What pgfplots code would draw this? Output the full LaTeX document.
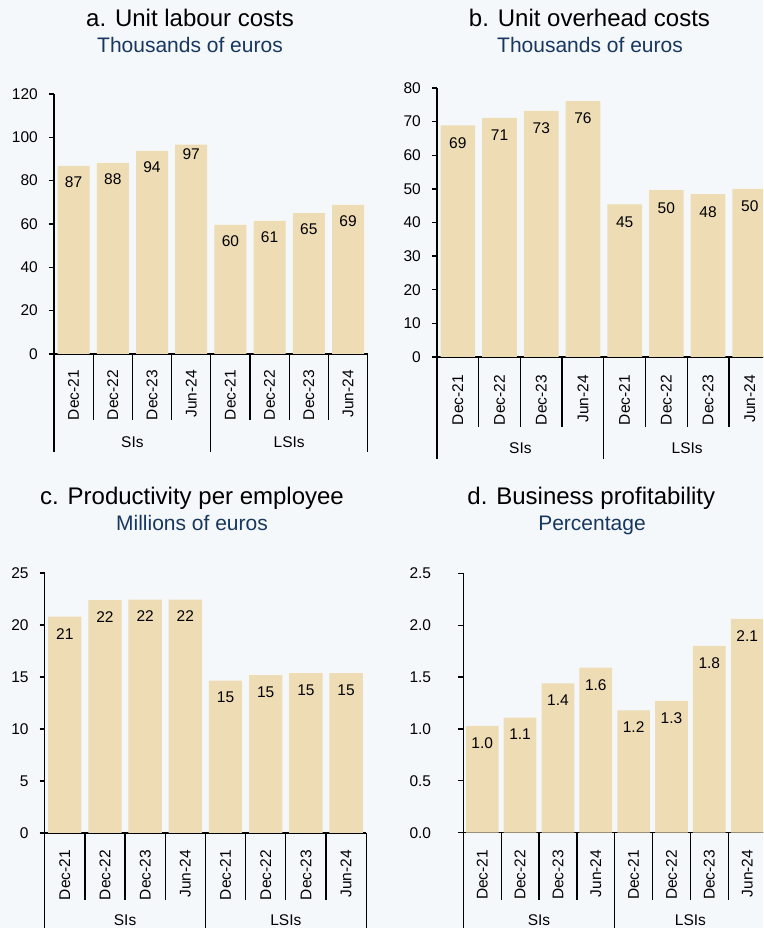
\documentclass[border=0pt]{standalone}
\usepackage{pgfplots}
\pgfplotsset{compat=1.18}
\usepackage{pgfplotstable}
\usepackage{fontspec}
\setmainfont{Liberation Sans}
\definecolor{bg}{HTML}{F5F8FA}
\definecolor{barc}{HTML}{EEDCB4}
\definecolor{navy}{HTML}{17375E}
\newcommand{\sm}{\fontsize{15.5}{18}\selectfont}
\newcommand{\ttl}{\fontsize{24}{28}\selectfont}
\newcommand{\sub}{\fontsize{21}{25}\selectfont}

\pgfplotstableread{
x y off
0 86.8 16.5
1 88.2 16.5
2 93.8 16.5
3 96.6 9.3
4 59.6 16.5
5 61.4 16.5
6 65.0 16.5
7 68.8 16.5
}\dataA
\pgfplotstableread{
x y off
0 68.9 17.5
1 71.1 17.5
2 73.2 17.5
3 76.1 17.5
4 45.4 17.5
5 49.6 17.5
6 48.4 17.5
7 50.0 17.5
}\dataB
\pgfplotstableread{
x y off
0 20.8 17
1 22.4 17
2 22.45 17
3 22.45 17
4 14.64 17
5 15.19 17
6 15.38 17
7 15.38 17
}\dataC
\pgfplotstableread{
x y off
0 1.03 17
1 1.11 17
2 1.44 17
3 1.59 17
4 1.18 17
5 1.27 17
6 1.80 17
7 2.06 17
}\dataD

\pgfplotsset{
  panel/.style={
    scale only axis, anchor=south west, clip=false,
    xmin=-0.5, xmax=7.5, ymin=0,
    axis lines*=left,
    axis line style={line width=1.3pt, black},
    xtick={0,...,7},
    xticklabels={Dec-21,Dec-22,Dec-23,Jun-24,Dec-21,Dec-22,Dec-23,Jun-24},
    x tick style={draw=none},
    xticklabel style={rotate=90, anchor=east, inner sep=0pt, font=\sm},
    tick align=outside, major tick length=5pt,
    y tick style={line width=1.3pt, black},
    yticklabel style={font=\sm, anchor=east, inner sep=0pt},
    /pgf/number format/assume math mode=true,
  },
  bars/.style={
    ybar, bar width=#1, fill=barc, draw=none,
    point meta=y,
    visualization depends on={\thisrow{off} \as \off},
    nodes near coords style={anchor=center, yshift=-\off pt, font=\sm, text=black},
  },
}
\newcommand{\seps}[3]{%
  \draw[line width=1.3pt] (axis cs:-0.5,0) -- ++(0pt,-#2);
  \draw[line width=1.3pt] (axis cs:3.5,0) -- ++(0pt,-#2);
  \draw[line width=1.3pt] (axis cs:7.5,0) -- ++(0pt,-#2);
  \draw[line width=1.3pt] (axis cs:0.5,0) -- ++(0pt,-#1);
  \draw[line width=1.3pt] (axis cs:1.5,0) -- ++(0pt,-#1);
  \draw[line width=1.3pt] (axis cs:2.5,0) -- ++(0pt,-#1);
  \draw[line width=1.3pt] (axis cs:4.5,0) -- ++(0pt,-#1);
  \draw[line width=1.3pt] (axis cs:5.5,0) -- ++(0pt,-#1);
  \draw[line width=1.3pt] (axis cs:6.5,0) -- ++(0pt,-#1);
  \node[font=\sm, yshift=-#3] at (axis cs:1.5,0) {SIs};
  \node[font=\sm, yshift=-#3] at (axis cs:5.5,0) {LSIs};
}

\begin{document}
\begin{tikzpicture}[x=1pt,y=1pt]
\fill[bg] (0,0) rectangle (763,928);
\useasboundingbox (0,0) rectangle (763,928);
\clip (0,0) rectangle (763,928);

% titles
\node[anchor=base, font=\ttl] at (190,901) {a. Unit labour costs};
\node[anchor=base, font=\sub, text=navy] at (190,875.3) {Thousands of euros};
\node[anchor=base, font=\ttl] at (589.5,901) {b. Unit overhead costs};
\node[anchor=base, font=\sub, text=navy] at (590,875.3) {Thousands of euros};
\node[anchor=base, font=\ttl] at (192,423) {c. Productivity per employee};
\node[anchor=base, font=\sub, text=navy] at (192,397.3) {Millions of euros};
\node[anchor=base, font=\ttl] at (591.3,423) {d. Business profitability};
\node[anchor=base, font=\sub, text=navy] at (592,397.3) {Percentage};

% panel a
\begin{axis}[panel, at={(54pt,574pt)}, width=313.6pt, height=260pt,
  ymax=120, ytick={0,20,...,120},
  xticklabel shift=11pt, yticklabel shift=11pt]
\addplot[bars=32pt, nodes near coords={\pgfmathprintnumber[fixed,precision=0]{\pgfplotspointmeta}}] table[x=x,y=y]{\dataA};
\seps{66pt}{98pt}{88pt}
\end{axis}

% panel b
\begin{axis}[panel, at={(437pt,571pt)}, width=333.6pt, height=269pt,
  ymax=80, ytick={0,10,...,80},
  xticklabel shift=13pt, yticklabel shift=11pt]
\addplot[bars=34.7pt, nodes near coords={\pgfmathprintnumber[fixed,precision=0]{\pgfplotspointmeta}}] table[x=x,y=y]{\dataB};
\seps{70pt}{102pt}{91pt}
\end{axis}

% panel c
\begin{axis}[panel, at={(44.7pt,95pt)}, width=321.5pt, height=260pt,
  ymax=25, ytick={0,5,...,25},
  xticklabel shift=12pt, yticklabel shift=11pt]
\addplot[bars=33.4pt, nodes near coords={\pgfmathprintnumber[fixed,precision=0]{\pgfplotspointmeta}}] table[x=x,y=y]{\dataC};
\seps{67pt}{120pt}{87pt}
\end{axis}

% panel d
\begin{axis}[panel, at={(463.3pt,95.3pt)}, width=302.8pt, height=259.4pt,
  ymax=2.5, ytick={0,0.5,...,2.5},
  yticklabel style={/pgf/number format/.cd, fixed, fixed zerofill, precision=1},
  xticklabel shift=12pt, yticklabel shift=27pt]
\addplot[bars=32.7pt, nodes near coords={\pgfmathprintnumber[fixed,fixed zerofill,precision=1]{\pgfplotspointmeta}}] table[x=x,y=y]{\dataD};
\seps{67pt}{120pt}{87pt}
\end{axis}
\end{tikzpicture}
\end{document}
